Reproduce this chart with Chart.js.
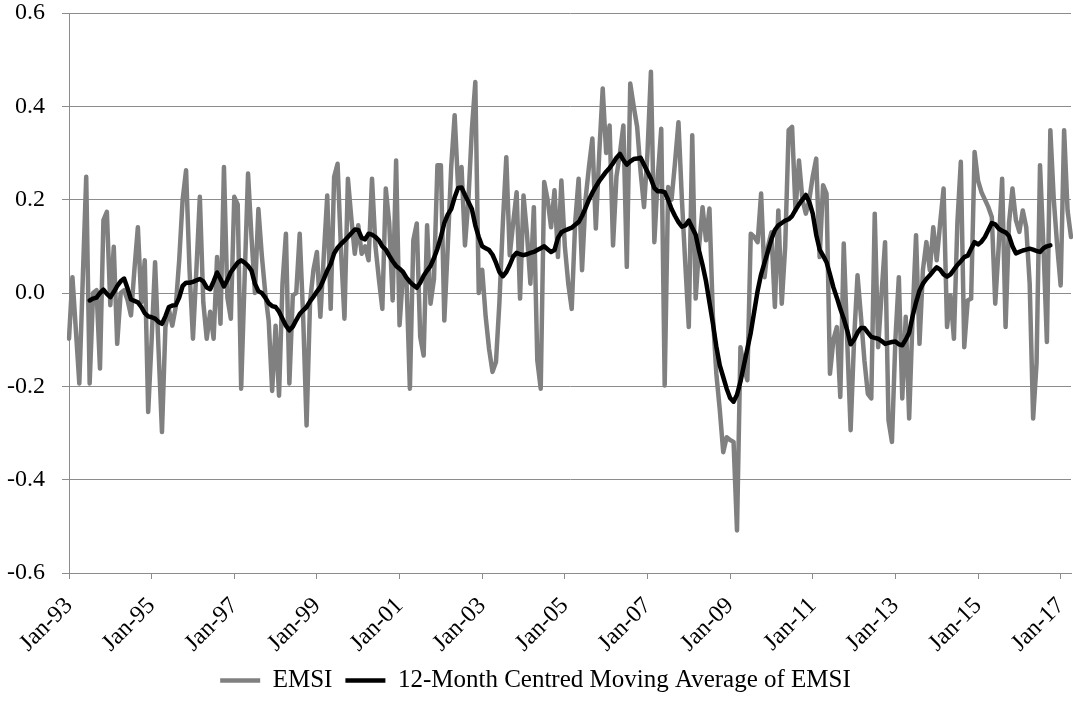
<!DOCTYPE html>
<html>
<head>
<meta charset="utf-8">
<title>EMSI</title>
<script src="https://cdn.jsdelivr.net/npm/chart.js@4.4.1/dist/chart.umd.min.js"></script>
<style>
  html, body { margin: 0; padding: 0; background: #fff; }
  #wrap { width: 1073px; height: 715px; }
</style>
</head>
<body>
<div id="wrap"><canvas id="chart" width="1073" height="715"></canvas></div>
<script>
// Monthly categories, Jan-93 .. Apr-17
const monthNames = ["Jan", "Feb", "Mar", "Apr", "May", "Jun", "Jul", "Aug", "Sep", "Oct", "Nov", "Dec"];
const firstYear = 1993;
const monthCount = 292;

// Only every second January gets a label on the axis
const tickEvery = 24;

// y axis range
const yMin = -0.6, yMax = 0.6, yStep = 0.2;

// EMSI, one row per year
const emsi = [
  -0.098, 0.034, -0.08, -0.194, 0.03, 0.249, -0.194, 0.0, 0.006, -0.162, 0.156, 0.174,
  -0.026, 0.099, -0.109, 0.0, 0.006, -0.015, -0.048, 0.05, 0.141, -0.02, 0.07, -0.255,
  -0.1, 0.066, -0.12, -0.298, -0.073, -0.035, -0.07, -0.03, 0.07, 0.2, 0.263, 0.05,
  -0.098, 0.05, 0.206, -0.02, -0.098, -0.04, -0.098, 0.077, -0.066, 0.27, -0.01, -0.055,
  0.206, 0.19, -0.205, 0.03, 0.256, 0.12, 0.0, 0.18, 0.08, 0.0, -0.06, -0.21,
  -0.07, -0.22, 0.02, 0.127, -0.194, -0.005, 0.0, 0.127, -0.05, -0.284, -0.02, 0.05,
  0.088, -0.051, 0.08, 0.209, -0.034, 0.249, 0.277, 0.09, -0.055, 0.245, 0.16, 0.084,
  0.145, 0.084, 0.1, 0.07, 0.245, 0.1, 0.03, -0.034, 0.224, 0.15, -0.016, 0.284,
  -0.069, 0.041, 0.03, -0.205, 0.113, 0.149, -0.094, -0.134, 0.145, -0.023, 0.03, 0.274,
  0.274, -0.059, 0.1, 0.27, 0.381, 0.227, 0.27, 0.102, 0.2, 0.35, 0.452, 0.0,
  0.05, -0.05, -0.12, -0.169, -0.148, -0.02, 0.15, 0.291, 0.081, 0.15, 0.216, -0.012,
  0.209, 0.127, 0.02, 0.184, -0.144, -0.205, 0.238, 0.2, 0.141, 0.22, 0.077, 0.241,
  0.1, 0.02, -0.034, 0.15, 0.245, 0.049, 0.2, 0.27, 0.331, 0.138, 0.3, 0.438,
  0.3, 0.359, 0.102, 0.25, 0.3, 0.359, 0.056, 0.449, 0.4, 0.356, 0.26, 0.184,
  0.3, 0.474, 0.109, 0.25, 0.352, -0.198, 0.227, 0.2, 0.28, 0.366, 0.2, 0.06,
  -0.073, 0.338, -0.012, 0.1, 0.184, 0.113, 0.181, -0.05, -0.173, -0.25, -0.341, -0.309,
  -0.315, -0.319, -0.509, -0.116, -0.16, -0.187, 0.127, 0.12, 0.109, 0.213, 0.034, 0.1,
  0.13, -0.03, 0.177, -0.023, 0.1, 0.349, 0.356, 0.177, 0.284, 0.2, 0.17, 0.2,
  0.25, 0.288, 0.077, 0.231, 0.213, -0.173, -0.1, -0.073, -0.223, 0.106, -0.1, -0.294,
  -0.1, 0.038, -0.05, -0.144, -0.216, -0.226, 0.17, -0.116, 0.0, 0.109, -0.273, -0.319,
  -0.1, 0.034, -0.226, -0.051, -0.269, -0.05, 0.124, -0.109, 0.05, 0.109, 0.049, 0.141,
  0.07, 0.15, 0.224, -0.073, -0.005, -0.098, 0.15, 0.281, -0.116, -0.016, -0.012, 0.302,
  0.241, 0.216, 0.2, 0.184, 0.163, -0.023, 0.1, 0.245, -0.073, 0.15, 0.224, 0.156,
  0.131, 0.177, 0.141, 0.02, -0.269, -0.15, 0.274, 0.1, -0.105, 0.349, 0.2, 0.1,
  0.016, 0.349, 0.177, 0.12
];

// 12-month centred moving average (starts Jul-93, ends Oct-16)
const movingAvg = [
  null, null, null, null, null, null, -0.016, -0.012, -0.01, 0.0, 0.007, -0.002,
  -0.009, 0.002, 0.015, 0.025, 0.031, 0.01, -0.014, -0.017, -0.02, -0.03, -0.043, -0.05,
  -0.052, -0.055, -0.062, -0.066, -0.05, -0.03, -0.027, -0.026, -0.01, 0.015, 0.022, 0.022,
  0.024, 0.027, 0.03, 0.025, 0.012, 0.008, 0.025, 0.044, 0.03, 0.014, 0.028, 0.045,
  0.055, 0.065, 0.07, 0.065, 0.058, 0.048, 0.02, 0.004, 0.0, -0.01, -0.022, -0.028,
  -0.03, -0.04, -0.055, -0.07, -0.08, -0.072, -0.058, -0.045, -0.037, -0.03, -0.018, -0.008,
  0.003, 0.013, 0.03, 0.048, 0.062, 0.085, 0.097, 0.105, 0.112, 0.12, 0.128, 0.136,
  0.135, 0.118, 0.115, 0.127, 0.125, 0.12, 0.113, 0.1, 0.093, 0.08, 0.068, 0.058,
  0.052, 0.045, 0.033, 0.024, 0.017, 0.011, 0.022, 0.037, 0.048, 0.058, 0.075, 0.095,
  0.12, 0.15, 0.168, 0.18, 0.205, 0.225, 0.226, 0.21, 0.195, 0.18, 0.145, 0.12,
  0.1, 0.096, 0.092, 0.082, 0.065, 0.045, 0.036, 0.045, 0.06, 0.078, 0.086, 0.083,
  0.081, 0.083, 0.086, 0.088, 0.092, 0.096, 0.1, 0.094, 0.088, 0.092, 0.118, 0.13,
  0.134, 0.137, 0.14, 0.146, 0.152, 0.165, 0.182, 0.2, 0.215, 0.228, 0.24, 0.25,
  0.26, 0.268, 0.278, 0.29, 0.298, 0.285, 0.275, 0.282, 0.287, 0.288, 0.29, 0.275,
  0.26, 0.245, 0.225, 0.218, 0.218, 0.216, 0.2, 0.18, 0.165, 0.152, 0.142, 0.145,
  0.155, 0.14, 0.125, 0.09, 0.06, 0.025, -0.02, -0.065, -0.115, -0.155, -0.18, -0.205,
  -0.225, -0.233, -0.218, -0.19, -0.155, -0.12, -0.085, -0.04, 0.005, 0.04, 0.065, 0.09,
  0.115, 0.135, 0.145, 0.15, 0.155, 0.158, 0.165, 0.178, 0.19, 0.2, 0.21, 0.195,
  0.17, 0.125, 0.093, 0.08, 0.066, 0.04, 0.012, -0.01, -0.034, -0.055, -0.08, -0.11,
  -0.1, -0.085, -0.075, -0.075, -0.085, -0.094, -0.096, -0.098, -0.103, -0.109, -0.107, -0.105,
  -0.104, -0.11, -0.112, -0.1, -0.085, -0.05, -0.02, 0.005, 0.02, 0.03, 0.038, 0.047,
  0.055, 0.05, 0.04, 0.035, 0.04, 0.05, 0.06, 0.068, 0.077, 0.08, 0.095, 0.109,
  0.104, 0.11, 0.12, 0.135, 0.15, 0.147, 0.138, 0.133, 0.13, 0.122, 0.1, 0.085,
  0.088, 0.091, 0.093, 0.095, 0.093, 0.09, 0.088, 0.096, 0.1, 0.102, null, null,
  null, null, null, null
];

// Build "Jan-93" style labels
const labels = [];
for (let i = 0; i < monthCount; i++) {
  const y = firstYear + Math.floor(i / 12);
  labels.push(monthNames[i % 12] + "-" + String(y % 100).padStart(2, "0"));
}

const axisGrey = "#8c8c8c";

Chart.defaults.font.family = "'Liberation Serif', 'Times New Roman', serif";
Chart.defaults.font.size = 24;
Chart.defaults.color = "#000";

new Chart(document.getElementById("chart"), {
  type: "line",
  data: {
    labels: labels,
    datasets: [
      {
        label: "EMSI",
        data: emsi,
        borderColor: "#808080",
        backgroundColor: "#808080",
        borderWidth: 4.5,
        borderJoinStyle: "round",
        borderCapStyle: "round",
        pointRadius: 0,
        tension: 0,
        order: 1
      },
      {
        label: "12-Month Centred Moving Average of EMSI",
        data: movingAvg,
        borderColor: "#000000",
        backgroundColor: "#000000",
        borderWidth: 4.5,
        borderJoinStyle: "round",
        borderCapStyle: "round",
        pointRadius: 0,
        tension: 0,
        spanGaps: false,
        order: 0
      }
    ]
  },
  options: {
    responsive: false,
    animation: false,
    events: [],
    layout: {
      padding: { left: 0, right: 2, top: 0, bottom: 12 }
    },
    plugins: {
      tooltip: { enabled: false },
      legend: {
        display: true,
        position: "bottom",
        labels: {
          usePointStyle: true,
          pointStyle: "line",
          pointStyleWidth: 40,
          padding: 13,
          color: "#000",
          font: { size: 25 },
          // keep EMSI first even though the average is drawn on top
          sort: (a, b) => a.datasetIndex - b.datasetIndex
        }
      }
    },
    scales: {
      x: {
        type: "category",
        offset: false,
        grid: {
          drawOnChartArea: false,
          drawTicks: true,
          tickLength: 6,
          color: axisGrey
        },
        border: { display: true, color: axisGrey, width: 1 },
        ticks: {
          autoSkip: false,
          maxRotation: 45,
          minRotation: 45,
          padding: 13,
          font: { size: 24 },
          callback: function (value, index) {
            return index % tickEvery === 0 ? this.getLabelForValue(value) : null;
          }
        },
        // plot runs right to the edge, as in the original
        afterFit: scale => {
          scale.paddingLeft = 0;
          scale.paddingRight = 0;
          scale.height = 82;
        }
      },
      y: {
        min: yMin,
        max: yMax,
        grid: {
          color: axisGrey,
          lineWidth: 1,
          tickLength: 7
        },
        border: { display: true, color: axisGrey, width: 1 },
        ticks: {
          stepSize: yStep,
          padding: 17,
          font: { size: 24 },
          callback: v => {
            const r = Math.round(v * 10) / 10;
            return (r === 0 ? 0 : r).toFixed(1);
          }
        },
        afterFit: scale => {
          scale.width = 69;
          scale.paddingTop = 13;
          scale.paddingBottom = 0;
        }
      }
    }
  }
});
</script>
</body>
</html>
